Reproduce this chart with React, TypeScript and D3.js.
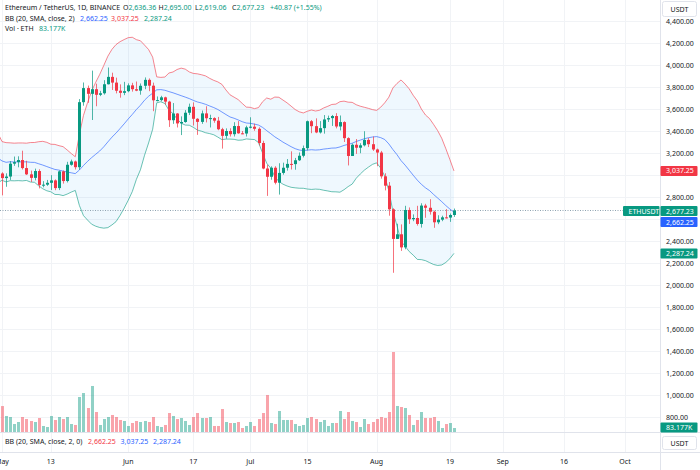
import React from "react";
import * as d3 from "d3";

// ---- Data (ETHUSDT daily, 2024-05-01 .. 2024-08-20) ----
const startDate = Date.UTC(2024, 4, 1);
const DAY = 86400000;

// closes of 2024-04-11 .. 2024-04-30 (history needed by BB(20))
const aprilCloses = [3500, 3236, 3007, 3156, 3101, 3085, 2985, 3063, 3056, 3157, 3147, 3201, 3219, 3139, 3156, 3130, 3255, 3263, 3216, 3014];

const opens = [
  3014, 2972, 2986, 3103, 3117, 3136, 3063, 3006, 2974, 3036, 2910, 2912, 2929, 2951, 2881, 3033, 2945, 3093, 3123, 3071, 3662, 3790, 3738, 3780, 3729, 3743, 3825, 3892, 3840, 3766, 3747,
  3762, 3815, 3780, 3767, 3811, 3865, 3812, 3679, 3681, 3706, 3667, 3498, 3559, 3469, 3482, 3566, 3620, 3511, 3483, 3560, 3516, 3517, 3494, 3416, 3356, 3400, 3371, 3445, 3379, 3377,
  3433, 3439, 3420, 3291, 3059, 2984, 3066, 2930, 3019, 3066, 3101, 3099, 3134, 3175, 3244, 3489, 3444, 3387, 3426, 3505, 3517, 3536, 3441, 3481, 3335, 3173, 3275, 3248, 3270, 3319, 3280,
  3232, 3204, 2987.9, 2903, 2688, 2419, 2461, 2342, 2682, 2598, 2609, 2555, 2722, 2702, 2666.46, 2570, 2594, 2615, 2613, 2636.36,
];
const highs = [
  3025, 3015, 3126, 3168, 3170, 3221, 3129, 3040, 3058, 3052, 2944, 2955, 2999, 2960, 3041, 3041, 3120, 3140, 3131, 3690, 3841, 3813, 3949, 3830, 3765, 3862, 3977, 3930, 3885, 3824, 3847,
  3833, 3838, 3850, 3832, 3887, 3878, 3840, 3714, 3720, 3712, 3675, 3654, 3563, 3533, 3590, 3649, 3660, 3517, 3586, 3625, 3548, 3525, 3528, 3429, 3424, 3425, 3480, 3490, 3400, 3448,
  3525, 3467, 3433, 3311, 3093, 3079, 3080, 3107, 3112, 3145, 3215, 3155, 3205, 3268, 3495, 3500, 3515, 3490, 3545, 3540, 3546, 3562, 3541, 3488, 3343, 3286, 3327, 3289, 3398, 3336, 3350,
  3240, 3219, 3016, 2936, 2698, 2557, 2551, 2720, 2705, 2642, 2720, 2743, 2738, 2780, 2676, 2634, 2630, 2690, 2650, 2695,
];
const lows = [
  2815, 2893, 2955, 3083, 3070, 3050, 3000, 2937, 2951, 2878, 2888, 2901, 2864, 2862, 2863, 2922, 2932, 3085, 3050, 3047, 3630, 3656, 3500, 3625, 3717, 3731, 3823, 3773, 3742, 3703, 3726,
  3752, 3758, 3762, 3730, 3780, 3762, 3580, 3670, 3670, 3640, 3437, 3465, 3432, 3363, 3475, 3545, 3450, 3365, 3465, 3478, 3432, 3475, 3407, 3240, 3330, 3350, 3350, 3375, 3371, 3350,
  3424, 3402, 3269, 3052, 2810, 2957, 2915, 2822, 3003, 3040, 3050, 3048, 3127, 3160, 3224, 3380, 3380, 3377, 3376, 3482, 3446, 3424, 3405, 3300, 3087, 3173, 3192, 3198, 3260, 3254, 3219,
  3080, 2967, 2860, 2630, 2111, 2418, 2310, 2325, 2555, 2580, 2540, 2522, 2611, 2640, 2520, 2553, 2580, 2605, 2574, 2619.06,
];
const closes = [
  2972, 2986, 3103, 3117, 3136, 3063, 3006, 2974, 3036, 2910, 2912, 2929, 2951, 2881, 3033, 2945, 3093, 3123, 3071, 3662, 3790, 3738, 3780, 3729, 3743, 3825, 3892, 3840, 3766, 3747, 3762,
  3815, 3780, 3767, 3811, 3865, 3812, 3679, 3681, 3706, 3667, 3498, 3559, 3469, 3482, 3566, 3620, 3511, 3483, 3560, 3516, 3517, 3494, 3416, 3356, 3400, 3371, 3445, 3379, 3377, 3433,
  3439, 3420, 3291, 3059, 2984, 3066, 2930, 3019, 3066, 3101, 3099, 3134, 3175, 3244, 3489, 3444, 3387, 3426, 3505, 3517, 3536, 3441, 3481, 3335, 3173, 3275, 3248, 3270, 3319, 3280, 3232,
  3204, 2987.9, 2903, 2688, 2419, 2461, 2342, 2682, 2598, 2609, 2555, 2722, 2702, 2666.46, 2570, 2594, 2615, 2613, 2636.36, 2677.23,
];
// volume, thousands of ETH
const volumesK = [
  540, 333, 312, 166, 208, 312, 270, 229, 208, 291, 125, 104, 333, 250, 312, 270, 312, 166, 146, 728, 811, 499, 957, 416, 146, 270, 312, 354, 312, 250, 229,
  125, 187, 229, 208, 229, 208, 312, 125, 104, 146, 395, 333, 270, 291, 229, 146, 312, 395, 291, 291, 312, 125, 125, 478, 208, 187, 187, 208, 83, 125,
  208, 125, 270, 395, 770, 187, 166, 437, 250, 250, 250, 166, 125, 146, 291, 312, 270, 208, 250, 125, 187, 187, 437, 270, 416, 229, 208, 104, 270, 166, 208,
  270, 312, 291, 416, 1664, 541, 520, 499, 354, 146, 250, 416, 291, 291, 312, 229, 83, 166, 187, 83.177,
];

const priceTicks = d3.range(800, 4401, 200);
const timeTickDates = [
  Date.UTC(2024, 4, 1), Date.UTC(2024, 4, 13), Date.UTC(2024, 5, 1), Date.UTC(2024, 5, 17),
  Date.UTC(2024, 6, 1), Date.UTC(2024, 6, 15), Date.UTC(2024, 7, 1), Date.UTC(2024, 7, 19),
  Date.UTC(2024, 8, 1), Date.UTC(2024, 8, 16), Date.UTC(2024, 9, 1),
];
const timeTickLabels = ["May", "13", "Jun", "17", "Jul", "15", "Aug", "19", "Sep", "16", "Oct"];

// ---- Style ----
const FONT = "'Noto Sans', 'DejaVu Sans', sans-serif";
const GREEN = "#089981";
const RED = "#F23645";
const BLUE = "#2962FF";
const TEXT = "#131722";
const GRID = "#f1f3f6";
const BORDER = "#e0e3eb";

const PANE_RIGHT = 660;
const PANE_BOTTOM = 432;

export default function App() {
  const xS = d3.scaleUtc().domain([Date.UTC(2024, 4, 1), Date.UTC(2024, 9, 1)]).range([2, 625]);
  const yP = d3.scaleLinear().domain([800, 4400]).range([417, 21]);
  const yV = d3.scaleLinear().domain([0, d3.max(volumesK) as number]).range([PANE_BOTTOM, 352]);
  const dateOf = (i: number) => new Date(startDate + i * DAY);

  // Bollinger bands (20, 2) from closes; k=0 is Apr 30
  const allCloses = aprilCloses.concat(closes);
  const bb = d3.range(0, closes.length + 1).map((k) => {
    const w = allCloses.slice(k, k + 20);
    const m = d3.mean(w) as number;
    const sd = Math.sqrt(d3.mean(w, (v) => (v - m) * (v - m)) as number);
    return { x: xS(dateOf(k - 1)), basis: m, upper: m + 2 * sd, lower: m - 2 * sd };
  });
  const area = d3.area<any>().x((d) => d.x).y0((d) => yP(d.lower)).y1((d) => yP(d.upper));
  const line = (key: string) => d3.line<any>().x((d) => d.x).y((d) => yP(d[key]))(bb) as string;

  const last = closes.length - 1;
  const lastClose = closes[last];
  const lastBB = bb[bb.length - 1];

  // tag rectangles on the price axis (drawn over the tick labels)
  const tagYs = [yP(lastBB.upper), yP(lastClose) + 0.5, yP(lastClose) + 11.5, yP(lastBB.lower)];
  const hiddenTick = (p: number) => tagYs.some((t) => Math.abs(yP(p) - t) < 6);

  const tag = (yc: number, bg: string, text: string, key: string, x = PANE_RIGHT + 0.5, w = 37) => (
    <g key={key}>
      <rect x={x} y={yc - 5} width={w} height={10} fill={bg} rx={1} />
      <text x={x + 5.5} y={yc + 2.5} fontSize={7} fill="#fff" fontFamily={FONT}>{text}</text>
    </g>
  );

  const fmt = d3.format(",.2f");

  return (
    <svg width={700} height={470} style={{ position: "absolute", left: 0, top: 0, display: "block", background: "#fff" }}>
      <defs>
        <clipPath id="pane">
          <rect x={0} y={0} width={PANE_RIGHT} height={PANE_BOTTOM} />
        </clipPath>
      </defs>
      <rect x={0} y={0} width={700} height={470} fill="#fff" />

      {/* grid */}
      <g>
        {priceTicks.map((p) => (
          <line key={"hg" + p} x1={0} x2={PANE_RIGHT} y1={Math.round(yP(p)) + 0.5} y2={Math.round(yP(p)) + 0.5} stroke={GRID} />
        ))}
        {timeTickDates.map((d) => (
          <line key={"vg" + d} x1={Math.round(xS(new Date(d))) + 0.5} x2={Math.round(xS(new Date(d))) + 0.5} y1={0} y2={452} stroke={GRID} />
        ))}
      </g>

      <g clipPath="url(#pane)">
        {/* BB */}
        <path d={area(bb) as string} fill="rgba(33,150,243,0.07)" />
        <path d={line("upper")} fill="none" stroke={RED} strokeOpacity={0.6} strokeWidth={1} />
        <path d={line("basis")} fill="none" stroke={BLUE} strokeOpacity={0.65} strokeWidth={1} />
        <path d={line("lower")} fill="none" stroke={GREEN} strokeOpacity={0.6} strokeWidth={1} />

        {/* volume */}
        {volumesK.map((v, i) => {
          const x = Math.round(xS(dateOf(i)));
          const up = closes[i] >= opens[i];
          return (
            <rect key={"v" + i} x={x - 1} y={yV(v)} width={3} height={PANE_BOTTOM - yV(v)} fill={up ? "rgba(8,153,129,0.45)" : "rgba(242,54,69,0.45)"} />
          );
        })}

        {/* current price dotted line */}
        <line x1={0} x2={623} y1={yP(lastClose)} y2={yP(lastClose)} stroke="#8fa3b0" strokeWidth={1} strokeDasharray="1 1.5" />

        {/* candles */}
        {closes.map((c, i) => {
          const x = Math.round(xS(dateOf(i)));
          const o = opens[i];
          const up = c >= o;
          const col = up ? GREEN : RED;
          const yt = yP(Math.max(o, c));
          const yb = yP(Math.min(o, c));
          return (
            <g key={"c" + i}>
              <line x1={x + 0.5} x2={x + 0.5} y1={yP(highs[i])} y2={yP(lows[i])} stroke={col} strokeOpacity={0.7} />
              <rect x={x - 1} y={yt} width={3} height={Math.max(1, yb - yt)} fill={col} />
            </g>
          );
        })}
      </g>

      {/* pane separators and axis border */}
      <line x1={0} x2={700} y1={PANE_BOTTOM + 0.5} y2={PANE_BOTTOM + 0.5} stroke={BORDER} />
      <line x1={0} x2={700} y1={452.5} y2={452.5} stroke={BORDER} />
      <line x1={PANE_RIGHT + 0.5} x2={PANE_RIGHT + 0.5} y1={0} y2={470} stroke={BORDER} />

      {/* price axis labels */}
      {priceTicks.filter((p) => !hiddenTick(p)).map((p) => (
        <text key={"pl" + p} x={666} y={yP(p) + 2.5} fontSize={7} fill={TEXT} fontFamily={FONT}>{fmt(p)}</text>
      ))}

      {/* top USDT button */}
      <rect x={662.5} y={1.5} width={34} height={15} rx={2} fill="#fff" stroke={BORDER} />
      <text x={679.5} y={11.5} fontSize={7} fill={TEXT} fontFamily={FONT} textAnchor="middle">USDT</text>

      {/* price tags */}
      {tag(tagYs[0], RED, fmt(lastBB.upper), "tu")}
      {tag(tagYs[1], GREEN, fmt(lastClose), "tc")}
      {tag(tagYs[2], BLUE, fmt(lastBB.basis), "tb")}
      {tag(tagYs[3], GREEN, fmt(lastBB.lower), "tl")}
      {tag(tagYs[1], GREEN, "ETHUSDT", "tn", 623, 36.5)}
      {tag(yV(volumesK[last]) - 0.5, GREEN, d3.format(".3f")(volumesK[last]) + "K", "tv")}

      {/* bottom pane: second BB legend + USDT button */}
      <text x={5} y={444} fontSize={7} fontFamily={FONT} fill={TEXT}>
        BB (20, SMA, close, 2, 0)
      </text>
      <text x={88} y={444} fontSize={7} fontFamily={FONT} fill={RED}>{fmt(lastBB.basis)}</text>
      <text x={120.5} y={444} fontSize={7} fontFamily={FONT} fill={BLUE}>{fmt(lastBB.upper)}</text>
      <text x={153} y={444} fontSize={7} fontFamily={FONT} fill={BLUE}>{fmt(lastBB.lower)}</text>
      <rect x={662.5} y={436.5} width={34} height={13} rx={2} fill="#fff" stroke={BORDER} />
      <text x={679.5} y={445.5} fontSize={7} fill={TEXT} fontFamily={FONT} textAnchor="middle">USDT</text>

      {/* time axis */}
      {timeTickDates.map((d, i) => (
        <text key={"tl" + d} x={xS(new Date(d))} y={463.5} fontSize={7} fill={TEXT} fontFamily={FONT} textAnchor="middle">
          {timeTickLabels[i]}
        </text>
      ))}

      {/* legend */}
      <g fontFamily={FONT} fontSize={7}>
        <text x={5} y={10} fill={TEXT}>Ethereum / TetherUS, 1D, BINANCE</text>
        <text x={123} y={10}><tspan fill={TEXT}>O</tspan><tspan fill={GREEN}>{fmt(opens[last])}</tspan></text>
        <text x={158.5} y={10}><tspan fill={TEXT}>H</tspan><tspan fill={GREEN}>{fmt(highs[last])}</tspan></text>
        <text x={195} y={10}><tspan fill={TEXT}>L</tspan><tspan fill={GREEN}>{fmt(lows[last])}</tspan></text>
        <text x={232} y={10}><tspan fill={TEXT}>C</tspan><tspan fill={GREEN}>{fmt(lastClose)}</tspan></text>
        <text x={270} y={10} fill={GREEN}>+40.87 (+1.55%)</text>

        <text x={5} y={20.5} fill={TEXT}>BB (20, SMA, close, 2)</text>
        <text x={80} y={20.5} fill={BLUE}>{fmt(lastBB.basis)}</text>
        <text x={111} y={20.5} fill={RED}>{fmt(lastBB.upper)}</text>
        <text x={144} y={20.5} fill={GREEN}>{fmt(lastBB.lower)}</text>

        <text x={5} y={31} fill={TEXT}>Vol · ETH</text>
        <text x={39} y={31} fill={GREEN}>{d3.format(".3f")(volumesK[last])}K</text>
      </g>
    </svg>
  );
}
